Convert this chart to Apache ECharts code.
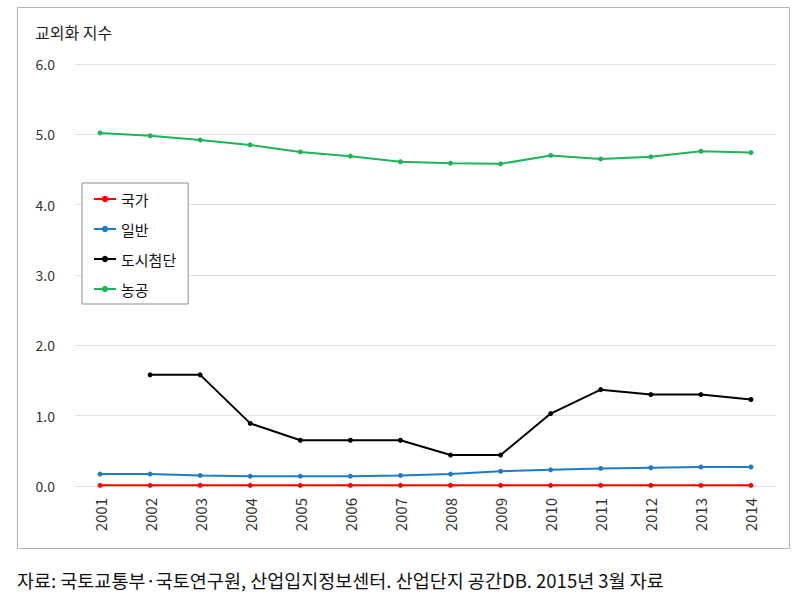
<!DOCTYPE html>
<html>
<head>
<meta charset="utf-8">
<style>
  html, body { margin: 0; padding: 0; background: #fff; }
  #chart { width: 804px; height: 612px; }
</style>
<script src="https://cdn.jsdelivr.net/npm/echarts@6/dist/echarts.min.js"></script>
</head>
<body>
<div id="chart"></div>
<script>
// 연도
var years = ['2001','2002','2003','2004','2005','2006','2007','2008','2009','2010','2011','2012','2013','2014'];
// 교외화 지수
var national = [0.01,0.01,0.01,0.01,0.01,0.01,0.01,0.01,0.01,0.01,0.01,0.01,0.01,0.01];
var general  = [0.17,0.17,0.15,0.14,0.14,0.14,0.15,0.17,0.21,0.23,0.25,0.26,0.27,0.27];
var urbanHT  = [null,1.58,1.58,0.89,0.65,0.65,0.65,0.44,0.44,1.03,1.37,1.30,1.30,1.23];
var agriInd  = [5.02,4.98,4.92,4.85,4.75,4.69,4.61,4.59,4.58,4.70,4.65,4.68,4.76,4.74];
var seriesNames = ['국가','일반','도시첨단','농공'];
var yTicks = { min: 0, max: 6, interval: 1 };
var sourceText = '자료: 국토교통부·국토연구원, 산업입지정보센터. 산업단지 공간DB. 2015년 3월 자료';

var font = '"Noto Sans CJK KR", "Noto Sans", sans-serif';

function makeLine(name, data, color) {
    return {
        name: name,
        type: 'line',
        data: data,
        symbol: 'circle',
        symbolSize: 5,
        lineStyle: { color: color, width: 2 },
        itemStyle: { color: color },
        connectNulls: false,
        animation: false
    };
}

var chart = echarts.init(document.getElementById('chart'), null, { renderer: 'svg' });

var option = {
    backgroundColor: '#fff',
    textStyle: { fontFamily: font },
    graphic: [
        {
            type: 'rect',
            shape: { x: 17.5, y: 7.5, width: 772, height: 541 },
            style: { fill: 'none', stroke: '#b4b4b4', lineWidth: 1 },
            z: -10
        },
        {
            type: 'text',
            left: 35,
            top: 24,
            style: { text: '교외화 지수', font: '16px ' + font, fill: '#222' }
        },
        {
            type: 'text',
            left: 17,
            top: 571,
            style: { text: sourceText, font: '18.5px ' + font, fill: '#111' }
        }
    ],
    legend: {
        orient: 'vertical',
        left: 82,
        top: 183,
        data: seriesNames,
        itemWidth: 22,
        itemHeight: 8,
        itemGap: 14,
        padding: [8, 12, 7, 11],
        borderColor: '#8c8c8c',
        borderWidth: 1,
        backgroundColor: '#fff',
        textStyle: { fontSize: 15, lineHeight: 16, color: '#111', fontFamily: font }
    },
    grid: { left: 75, right: 28, top: 64, bottom: 126 },
    xAxis: {
        type: 'category',
        data: years,
        boundaryGap: true,
        axisLine: { show: false },
        axisTick: { show: false },
        axisLabel: { rotate: 90, margin: 12, fontSize: 15, color: '#333', fontFamily: font }
    },
    yAxis: {
        type: 'value',
        min: yTicks.min,
        max: yTicks.max,
        interval: yTicks.interval,
        axisLine: { show: false },
        axisTick: { show: false },
        splitLine: { lineStyle: { color: '#e2e2e2', width: 1 } },
        axisLabel: {
            margin: 20,
            fontSize: 14,
            color: '#333',
            fontFamily: font,
            formatter: function (v) { return v.toFixed(1); }
        }
    },
    series: [
        makeLine(seriesNames[0], national, '#ff0000'),
        makeLine(seriesNames[1], general, '#1f7bc8'),
        makeLine(seriesNames[2], urbanHT, '#000000'),
        makeLine(seriesNames[3], agriInd, '#1fb35a')
    ]
};

chart.setOption(option);
window.addEventListener('resize', function () {
    chart.resize();
});
</script>
</body>
</html>
